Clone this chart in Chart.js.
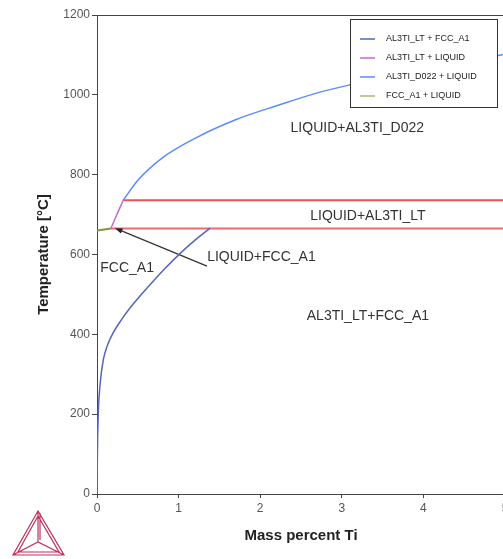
<!DOCTYPE html>
<html>
<head>
<meta charset="utf-8">
<script src="https://cdn.jsdelivr.net/npm/chart.js@4"></script>
<style>
  body { margin: 0; overflow: hidden; background: #fff; }
  canvas { display: block; }
</style>
</head>
<body>
<canvas id="myChart" width="520" height="559"></canvas>
<script>
// phase boundaries (mass % Ti, °C)
const solvusX = [0, 0.0025, 0.0074, 0.017, 0.037, 0.077, 0.129, 0.196, 0.294, 0.404, 0.527, 0.674, 0.833, 1.01, 1.201, 1.385]
const solvusT = [0, 60, 135, 210, 273, 336, 373, 403, 435, 466, 496, 530, 565, 601, 636, 666]

const ltLiqX = [0.17, 0.241, 0.322]
const ltLiqT = [665, 699, 736]

const d022X = [0.322, 0.506, 0.793, 1.201, 1.691, 2.222, 2.754, 3.1, 4.0, 4.5, 5.0]
const d022T = [736, 787, 841, 891, 937, 974, 1008, 1025, 1063, 1082, 1102]

const fccLiqX = [0, 0.17]
const fccLiqT = [660, 665]

// invariant lines
const upperX = [0.322, 5]
const upperT = [736, 736]
const lowerX = [0.17, 5]
const lowerT = [665, 665]

// arrow from the LIQUID+FCC_A1 label to the eutectic corner
const arrowX = [1.348, 0.22]
const arrowT = [571, 666]

const xTicks = [0, 1, 2, 3, 4, 5]
const yTicks = [0, 200, 400, 600, 800, 1000, 1200]

const regionLabels = [
  { text: 'LIQUID+AL3TI_D022', x: 3.19, y: 917, align: 'center' },
  { text: 'LIQUID+AL3TI_LT', x: 3.32, y: 696, align: 'center' },
  { text: 'FCC_A1', x: 0.04, y: 566, align: 'left' },
  { text: 'LIQUID+FCC_A1', x: 1.35, y: 594, align: 'left' },
  { text: 'AL3TI_LT+FCC_A1', x: 3.32, y: 446, align: 'center' }
]

const FONT = '"Liberation Sans", Arial, sans-serif'

function pts(xs, ys) {
  return xs.map((x, i) => ({ x: x, y: ys[i] }))
}

function line(label, xs, ys, color, width, inLegend, smooth) {
  return {
    label: label,
    data: pts(xs, ys),
    borderColor: color,
    backgroundColor: color,
    borderWidth: width,
    pointRadius: 0,
    fill: false,
    cubicInterpolationMode: smooth ? 'monotone' : 'default',
    tension: 0,
    inLegend: inLegend
  }
}

// frame, region labels, arrow head, legend box, logo
const extras = {
  id: 'extras',
  afterDatasetsDraw(chart) {
    const c = chart.ctx
    const a = chart.chartArea
    const xs = chart.scales.x, ys = chart.scales.y
    c.save()
    c.strokeStyle = '#444'
    c.lineWidth = 1
    c.beginPath()
    c.moveTo(a.left, a.top + 0.5)
    c.lineTo(a.right, a.top + 0.5)
    c.stroke()

    // arrow head
    const x1 = xs.getPixelForValue(arrowX[0]), y1 = ys.getPixelForValue(arrowT[0])
    const x2 = xs.getPixelForValue(arrowX[1]), y2 = ys.getPixelForValue(arrowT[1])
    const ang = Math.atan2(y2 - y1, x2 - x1)
    c.fillStyle = '#222'
    c.beginPath()
    c.moveTo(x2, y2)
    c.lineTo(x2 - 8 * Math.cos(ang - 0.35), y2 - 8 * Math.sin(ang - 0.35))
    c.lineTo(x2 - 8 * Math.cos(ang + 0.35), y2 - 8 * Math.sin(ang + 0.35))
    c.closePath()
    c.fill()

    // region labels
    c.font = '14px ' + FONT
    c.fillStyle = '#333'
    c.textBaseline = 'middle'
    regionLabels.forEach(l => {
      c.textAlign = l.align
      c.fillText(l.text, xs.getPixelForValue(l.x), ys.getPixelForValue(l.y))
    })

    // legend
    const lx = 350.5, ly = 19.5, lw = 147, lh = 88
    c.fillStyle = '#fff'
    c.fillRect(lx, ly, lw, lh)
    c.strokeStyle = '#333'
    c.strokeRect(lx, ly, lw, lh)
    c.font = '9px ' + FONT
    c.textAlign = 'left'
    c.fillStyle = '#222'
    let row = 0
    chart.data.datasets.forEach(ds => {
      if (!ds.inLegend) return
      const yy = 39 + row * 19
      c.strokeStyle = ds.legendColor || ds.borderColor
      c.lineWidth = 1.5
      c.beginPath()
      c.moveTo(360, yy)
      c.lineTo(375, yy)
      c.stroke()
      c.fillStyle = '#222'
      c.fillText(ds.label, 386, yy)
      row++
    })

    // logo
    c.strokeStyle = '#c0305a'
    c.lineWidth = 1.2
    c.beginPath()
    c.moveTo(38, 511); c.lineTo(13, 555); c.lineTo(64, 555); c.closePath()
    c.moveTo(38, 516); c.lineTo(18, 552); c.lineTo(59, 552); c.closePath()
    c.moveTo(38, 511); c.lineTo(38, 542)
    c.moveTo(13, 555); c.lineTo(38, 542); c.lineTo(64, 555)
    c.moveTo(40, 513); c.lineTo(40, 540)
    c.stroke()
    c.restore()
  }
}

const datasets = [
  line('AL3TI_LT + FCC_A1', solvusX, solvusT, '#5566b8', 1.5, true, true),
  line('AL3TI_LT + LIQUID', ltLiqX, ltLiqT, '#c866d0', 1.5, true, true),
  line('AL3TI_D022 + LIQUID', d022X, d022T, '#5a8cff', 1.5, true, true),
  line('FCC_A1 + LIQUID', fccLiqX, fccLiqT, '#7f9a35', 2, true, false),
  line('upper', upperX, upperT, '#e8505a', 2, false, false),
  line('lower', lowerX, lowerT, '#ec6a72', 2, false, false),
  line('arrow', arrowX, arrowT, '#333', 1.2, false, false)
]
datasets[3].legendColor = '#a8b878'

const ctx = document.getElementById('myChart')

new Chart(ctx, {
  type: 'line',
  data: { datasets: datasets },
  options: {
    responsive: false,
    animation: false,
    devicePixelRatio: 1,
    layout: { padding: { top: 15, right: 15, left: 0, bottom: 0 } },
    plugins: {
      legend: { display: false },
      tooltip: { enabled: false }
    },
    scales: {
      x: {
        type: 'linear',
        min: 0,
        max: 5,
        afterFit: s => { s.height = 65 },
        afterBuildTicks: s => { s.ticks = xTicks.map(v => ({ value: v })) },
        ticks: { color: '#555', font: { family: FONT, size: 12 }, padding: 3, callback: v => String(v) },
        grid: { drawOnChartArea: false, tickLength: 4, color: '#444' },
        border: { color: '#444', width: 1 },
        title: {
          display: true,
          text: 'Mass percent Ti',
          color: '#222',
          font: { family: FONT, size: 15, weight: 'bold' },
          padding: { top: 0, bottom: 14 }
        }
      },
      y: {
        min: 0,
        max: 1200,
        afterFit: s => { s.width = 97 },
        afterBuildTicks: s => { s.ticks = yTicks.map(v => ({ value: v })) },
        ticks: { color: '#555', font: { family: FONT, size: 12 }, padding: 2, callback: v => String(v) },
        grid: { drawOnChartArea: false, tickLength: 5, color: '#444' },
        border: { color: '#444', width: 1 },
        title: {
          display: true,
          text: 'Temperature [°C]',
          color: '#222',
          font: { family: FONT, size: 15, weight: 'bold' },
          padding: { top: 35, bottom: 0 }
        }
      }
    }
  },
  plugins: [extras]
})
</script>
</body>
</html>
